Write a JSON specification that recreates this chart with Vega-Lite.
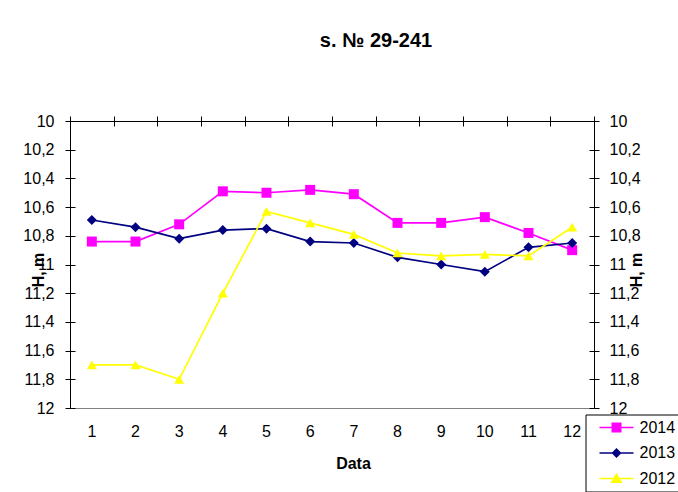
{
  "$schema": "https://vega.github.io/schema/vega-lite/v6.json",
  "width": 524,
  "height": 287,
  "autosize": {"type": "none"},
  "padding": {"left": 70, "top": 121, "right": 84, "bottom": 84},
  "background": "white",
  "config": {
    "font": "Liberation Sans",
    "view": {"stroke": "#808080", "strokeWidth": 1},
    "axis": {
      "grid": false,
      "labelColor": "black",
      "titleColor": "black",
      "domainColor": "black",
      "tickColor": "black",
      "labelFontSize": 16,
      "titleFontSize": 16,
      "titleFontWeight": "bold",
      "labelFont": "Liberation Sans",
      "titleFont": "Liberation Sans"
    },
    "legend": {"labelColor": "black", "labelFont": "Liberation Sans"}
  },
  "title": {
    "text": "s. № 29-241",
    "font": "Liberation Sans",
    "fontSize": 20,
    "fontWeight": "bold",
    "color": "black",
    "anchor": "middle",
    "baseline": "alphabetic",
    "dx": 44,
    "offset": 46
  },
  "data": {
    "values": [
      {"month": 1, "year": "2014", "H": 10.84},
      {"month": 2, "year": "2014", "H": 10.84},
      {"month": 3, "year": "2014", "H": 10.72},
      {"month": 4, "year": "2014", "H": 10.49},
      {"month": 5, "year": "2014", "H": 10.5},
      {"month": 6, "year": "2014", "H": 10.48},
      {"month": 7, "year": "2014", "H": 10.51},
      {"month": 8, "year": "2014", "H": 10.71},
      {"month": 9, "year": "2014", "H": 10.71},
      {"month": 10, "year": "2014", "H": 10.67},
      {"month": 11, "year": "2014", "H": 10.78},
      {"month": 12, "year": "2014", "H": 10.9},
      {"month": 1, "year": "2013", "H": 10.69},
      {"month": 2, "year": "2013", "H": 10.74},
      {"month": 3, "year": "2013", "H": 10.82},
      {"month": 4, "year": "2013", "H": 10.76},
      {"month": 5, "year": "2013", "H": 10.75},
      {"month": 6, "year": "2013", "H": 10.84},
      {"month": 7, "year": "2013", "H": 10.85},
      {"month": 8, "year": "2013", "H": 10.95},
      {"month": 9, "year": "2013", "H": 11.0},
      {"month": 10, "year": "2013", "H": 11.05},
      {"month": 11, "year": "2013", "H": 10.88},
      {"month": 12, "year": "2013", "H": 10.85},
      {"month": 1, "year": "2012", "H": 11.7},
      {"month": 2, "year": "2012", "H": 11.7},
      {"month": 3, "year": "2012", "H": 11.8},
      {"month": 4, "year": "2012", "H": 11.2},
      {"month": 5, "year": "2012", "H": 10.63},
      {"month": 6, "year": "2012", "H": 10.71},
      {"month": 7, "year": "2012", "H": 10.79},
      {"month": 8, "year": "2012", "H": 10.92},
      {"month": 9, "year": "2012", "H": 10.94},
      {"month": 10, "year": "2012", "H": 10.93},
      {"month": 11, "year": "2012", "H": 10.94},
      {"month": 12, "year": "2012", "H": 10.74}
    ]
  },
  "layer": [
    {
      "mark": {"type": "line", "strokeWidth": 1.7},
      "encoding": {
        "x": {
          "field": "month", "type": "ordinal",
          "scale": {"type": "band", "paddingInner": 0, "paddingOuter": 0},
          "axis": {
            "orient": "bottom", "ticks": false, "domain": false,
            "labelAngle": 0, "labelPadding": 15,
            "title": "Data", "titleX": 283, "titleY": 60,
            "titleAlign": "center", "titleBaseline": "alphabetic"
          }
        },
        "y": {
          "field": "H", "type": "quantitative",
          "scale": {"domain": [10, 12], "reverse": true, "nice": false, "zero": false},
          "axis": {
            "orient": "left",
            "values": [10, 10.2, 10.4, 10.6, 10.8, 11, 11.2, 11.4, 11.6, 11.8, 12],
            "labelExpr": "replace(format(datum.value, '~g'), '.', ',')",
            "tickSize": 5, "labelPadding": 11,
            "title": "H, m", "titleX": -32, "titleY": 148.5,
            "titleAngle": -90, "titleAlign": "center", "titleBaseline": "middle"
          }
        },
        "color": {
          "field": "year", "type": "nominal",
          "scale": {"domain": ["2014", "2013", "2012"], "range": ["#FF00FF", "#000080", "#FFFF00"]},
          "legend": null
        }
      }
    },
    {
      "mark": {"type": "point", "filled": true, "opacity": 1},
      "encoding": {
        "x": {
          "field": "month", "type": "ordinal",
          "scale": {"type": "band", "paddingInner": 0, "paddingOuter": 0},
          "axis": {
            "orient": "top", "labels": false, "tickBand": "extent",
            "tickSize": 5, "title": null
          }
        },
        "y": {
          "field": "H", "type": "quantitative",
          "scale": {"domain": [10, 12], "reverse": true, "nice": false, "zero": false},
          "axis": {
            "orient": "right",
            "values": [10, 10.2, 10.4, 10.6, 10.8, 11, 11.2, 11.4, 11.6, 11.8, 12],
            "labelExpr": "replace(format(datum.value, '~g'), '.', ',')",
            "tickSize": 5, "labelPadding": 10,
            "title": "H, m", "titleX": 42.5, "titleY": 148.5,
            "titleAngle": -90, "titleAlign": "center", "titleBaseline": "middle"
          }
        },
        "color": {
          "field": "year", "type": "nominal",
          "scale": {"domain": ["2014", "2013", "2012"], "range": ["#FF00FF", "#000080", "#FFFF00"]},
          "legend": null
        },
        "shape": {
          "field": "year", "type": "nominal",
          "scale": {"domain": ["2014", "2013", "2012"], "range": ["square", "diamond", "triangle-up"]},
          "legend": null
        },
        "size": {
          "field": "year", "type": "nominal",
          "scale": {"domain": ["2014", "2013", "2012"], "range": [100, 100, 150]},
          "legend": null
        }
      }
    },
    {
      "mark": {"type": "point", "filled": true, "size": 0, "opacity": 1},
      "encoding": {
        "x": {
          "field": "month", "type": "ordinal",
          "scale": {"type": "band", "paddingInner": 0, "paddingOuter": 0},
          "axis": {
            "orient": "top", "labels": false, "tickBand": "extent",
            "tickSize": 5, "offset": -5, "domain": false, "title": null
          }
        },
        "y": {
          "field": "H", "type": "quantitative",
          "scale": {"domain": [10, 12], "reverse": true, "nice": false, "zero": false},
          "axis": {
            "orient": "left",
            "values": [10, 10.2, 10.4, 10.6, 10.8, 11, 11.2, 11.4, 11.6, 11.8, 12],
            "labels": false, "tickSize": 5, "offset": -5, "domain": false, "title": null
          }
        },
        "color": {
          "field": "year", "type": "nominal",
          "scale": {"domain": ["2014", "2013", "2012"], "range": ["#FF00FF", "#000080", "#FFFF00"]},
          "legend": {
            "orient": "none", "legendX": 515.5, "legendY": 293.5,
            "title": null, "strokeColor": "black", "fillColor": "white",
            "padding": 5, "labelFontSize": 16, "symbolOffset": 18, "labelOffset": 15,
            "rowPadding": 9.5, "symbolSize": 100, "symbolOpacity": 1, "symbolStrokeWidth": 0
          }
        },
        "shape": {
          "field": "year", "type": "nominal",
          "scale": {
            "domain": ["2014", "2013", "2012"],
            "range": [
              "M-3.4,-0.15H-0.5V0.15H-3.4Z M0.5,-0.15H3.4V0.15H0.5Z M-1,-1H1V1H-1Z",
              "M-3.4,-0.15H-0.5V0.15H-3.4Z M0.5,-0.15H3.4V0.15H0.5Z M0,-1L1,0L0,1L-1,0Z",
              "M-3.4,-0.15H-0.5V0.15H-3.4Z M0.5,-0.15H3.4V0.15H0.5Z M0,-1.15L1.2,0.9L-1.2,0.9Z"
            ]
          }
        }
      }
    },
    {
      "mark": {"type": "point", "filled": true, "size": 0},
      "encoding": {
        "x": {
          "field": "month", "type": "ordinal",
          "scale": {"type": "band", "paddingInner": 0, "paddingOuter": 0},
          "axis": null
        },
        "y": {
          "field": "H", "type": "quantitative",
          "scale": {"domain": [10, 12], "reverse": true, "nice": false, "zero": false},
          "axis": {
            "orient": "right",
            "values": [10, 10.2, 10.4, 10.6, 10.8, 11, 11.2, 11.4, 11.6, 11.8, 12],
            "labels": false, "tickSize": 5, "offset": -5, "domain": false, "title": null
          }
        }
      }
    }
  ],
  "resolve": {
    "axis": {"x": "independent", "y": "independent"},
    "scale": {"color": "independent", "shape": "independent", "size": "independent"}
  }
}
